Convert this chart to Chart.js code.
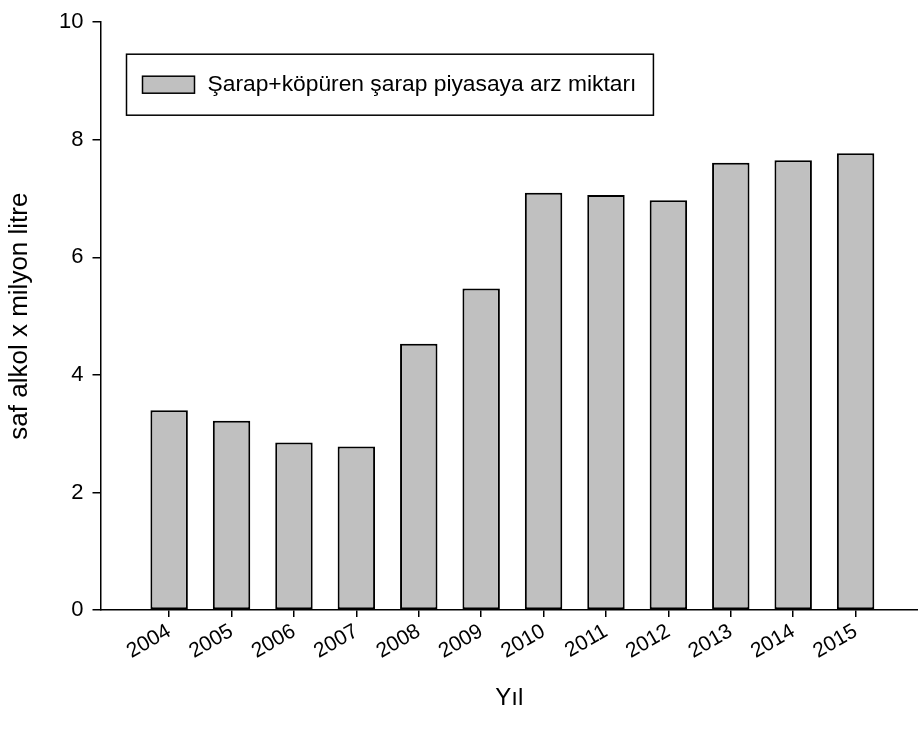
<!DOCTYPE html>
<html>
<head>
<meta charset="utf-8">
<script src="https://cdn.jsdelivr.net/npm/chart.js@4"></script>
<style>
  html, body { margin: 0; padding: 0; background: #fff; }
  #wrap { width: 918px; height: 731px; }
</style>
</head>
<body>
<div id="wrap"><canvas id="barChart"></canvas></div>
<script>
const years = [2004, 2005, 2006, 2007, 2008, 2009, 2010, 2011, 2012, 2013, 2014, 2015];
const supply = [3.40, 3.22, 2.85, 2.78, 4.53, 5.47, 7.10, 7.06, 6.97, 7.61, 7.65, 7.77];
const yTicks = [0, 2, 4, 6, 8, 10];
const seriesLabel = "Şarap+köpüren şarap piyasaya arz miktarı";
const xTitle = "Yıl";
const yTitle = "saf alkol x milyon litre";

const FONT = "'Liberation Sans', Arial, sans-serif";

// legend drawn as a boxed key inside the plot, like the original
const boxedLegend = {
  id: "boxedLegend",
  afterDraw(chart) {
    const ctx = chart.ctx;
    const area = chart.chartArea;
    const ds = chart.data.datasets[0];
    ctx.save();
    ctx.font = "22.8px " + FONT;
    const textW = ctx.measureText(ds.label).width;
    const x = area.left + 26, y = area.top + 32;
    const w = 16 + 52 + 13 + textW + 17, h = 61;
    ctx.lineWidth = 1.5;
    ctx.strokeStyle = "#000";
    ctx.strokeRect(x, y, w, h);
    ctx.fillStyle = ds.backgroundColor;
    ctx.fillRect(x + 16, y + 22, 52, 17);
    ctx.strokeRect(x + 16, y + 22, 52, 17);
    ctx.fillStyle = "#000";
    ctx.textBaseline = "middle";
    ctx.fillText(ds.label, x + 16 + 52 + 13, y + 31);
    ctx.restore();
  }
};

new Chart(document.getElementById("barChart"), {
  type: "bar",
  data: {
    datasets: [{
      label: seriesLabel,
      data: years.map((yr, i) => ({ x: yr, y: supply[i] })),
      backgroundColor: "#c0c0c0",
      borderColor: "#000",
      borderWidth: 2,
      borderSkipped: false,
      barPercentage: 0.6,
      categoryPercentage: 1
    }]
  },
  options: {
    responsive: true,
    maintainAspectRatio: false,
    animation: false,
    layout: { padding: { top: 19, left: 0, right: 0, bottom: 0 } },
    plugins: { legend: { display: false }, tooltip: { enabled: false } },
    scales: {
      x: {
        type: "linear",
        offset: false,
        min: 2002.9,
        max: 2016,
        afterBuildTicks: (s) => { s.ticks = years.map((v) => ({ value: v })); },
        afterFit: (s) => { s.height = 121; },
        ticks: {
          color: "#000",
          font: { family: FONT, size: 21 },
          minRotation: 30,
          maxRotation: 30,
          padding: 2,
          callback: (v) => String(v)
        },
        grid: { offset: false, drawOnChartArea: false, color: "#000", lineWidth: 1.5, tickLength: 7 },
        border: { color: "#000", width: 1.5 },
        title: {
          display: true,
          text: xTitle,
          color: "#000",
          font: { family: FONT, size: 24 },
          padding: { top: 0, bottom: 18 }
        }
      },
      y: {
        min: 0,
        max: 10,
        afterBuildTicks: (s) => { s.ticks = yTicks.map((v) => ({ value: v })); },
        afterFit: (s) => { s.width = 100.5; },
        ticks: {
          color: "#000",
          font: { family: FONT, size: 22 },
          padding: 9
        },
        grid: { drawOnChartArea: false, color: "#000", lineWidth: 1.5, tickLength: 8 },
        border: { color: "#000", width: 1.5 },
        title: {
          display: true,
          text: yTitle,
          color: "#000",
          font: { family: FONT, size: 26 },
          padding: { top: 4, bottom: 0 }
        }
      }
    }
  },
  plugins: [boxedLegend]
});
</script>
</body>
</html>
